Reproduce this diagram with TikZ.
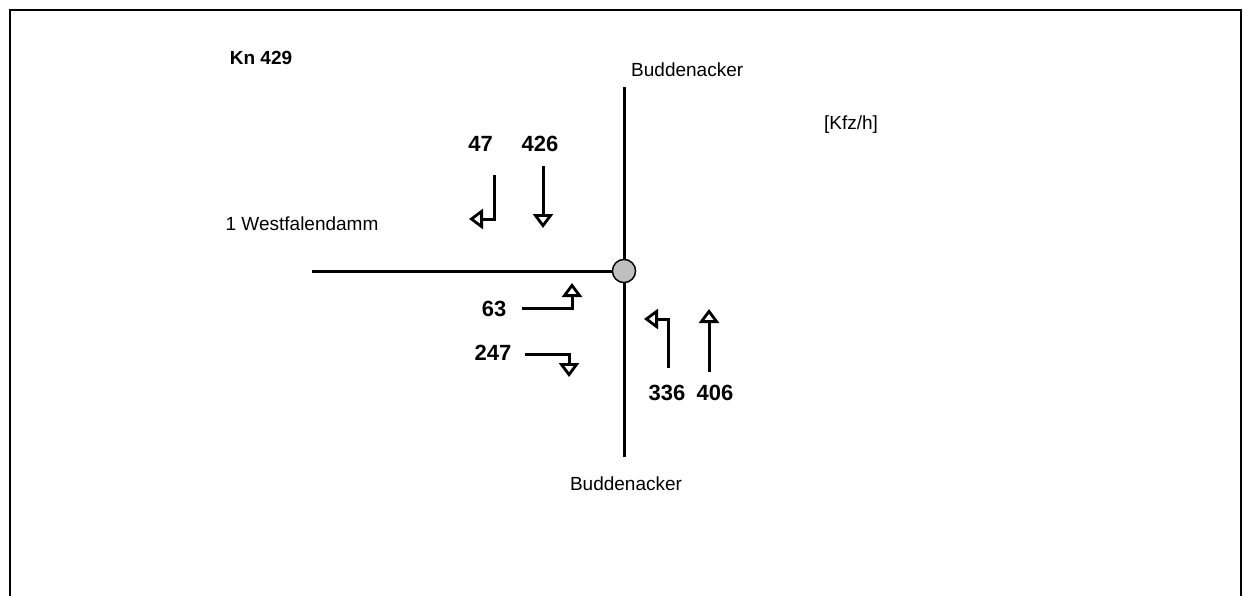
\documentclass[tikz,border=0pt]{standalone}
\usepackage{fontspec}
\setmainfont{Liberation Sans}
\usetikzlibrary{arrows.meta}
\begin{document}
\begin{tikzpicture}[x=1pt,y=-1pt,
  road/.style={line width=3pt},
  flow/.style={line width=3pt,-{Triangle[open,length=14pt,width=20pt,line width=2.8pt,fill=white]}},
  lbl/.style={font=\fontsize{19}{22}\selectfont,inner sep=0pt},
  num/.style={font=\fontsize{22}{26}\selectfont\bfseries,inner sep=0pt},
  title/.style={font=\fontsize{19}{22}\selectfont\bfseries,inner sep=0pt}]
\useasboundingbox (0,0) rectangle (1244,596);
% frame
\draw[line width=2.5pt] (10,598) -- (10,10) -- (1241,10) -- (1241,598);
% roads
\coordinate (nTop) at (624,87);
\coordinate (nBot) at (624,457);
\coordinate (wEnd) at (312,271);
\node[circle,draw,line width=1.3pt,fill=black!25,minimum size=23pt,inner sep=0pt] (J) at (624,271) {};
\draw[road] (nTop) -- (J);
\draw[road] (J) -- (nBot);
\draw[road] (wEnd) -- (J.west);
\draw[line width=1.3pt,fill=black!25] (J) circle (11.5pt);
% labels
\node[title] (kn) at (261,58) {Kn 429};
\node[lbl,anchor=west] (bt) at (631,70) {Buddenacker};
\node[lbl] (bb) at (626,484) {Buddenacker};
\node[lbl] (unit) at (851,125) {[Kfz/h]};
\node[lbl] (west) at (302,224) {1 Westfalendamm};
% numbers
\node[num] (n47) at (480.5,144) {47};
\node[num] (n426) at (540,144) {426};
\node[num] (n63) at (494,309) {63};
\node[num] (n247) at (493,353) {247};
\node[num] (n336) at (667,393) {336};
\node[num] (n406) at (715,393) {406};
% arrows
\coordinate (a1s) at (494,175); \coordinate (a1e) at (469,219);
\draw[flow] (a1s) |- (a1e);
\coordinate (a2s) at (543,166); \coordinate (a2e) at (543,228);
\draw[flow] (a2s) -- (a2e);
\coordinate (a3s) at (522,308); \coordinate (a3e) at (572,283);
\draw[flow] (a3s) -| (a3e);
\coordinate (a4s) at (525,354); \coordinate (a4e) at (569,377);
\draw[flow] (a4s) -| (a4e);
\coordinate (a5s) at (668,368); \coordinate (a5e) at (644,319);
\draw[flow] (a5s) |- (a5e);
\coordinate (a6s) at (709,372); \coordinate (a6e) at (709,309);
\draw[flow] (a6s) -- (a6e);
\end{tikzpicture}
\end{document}
